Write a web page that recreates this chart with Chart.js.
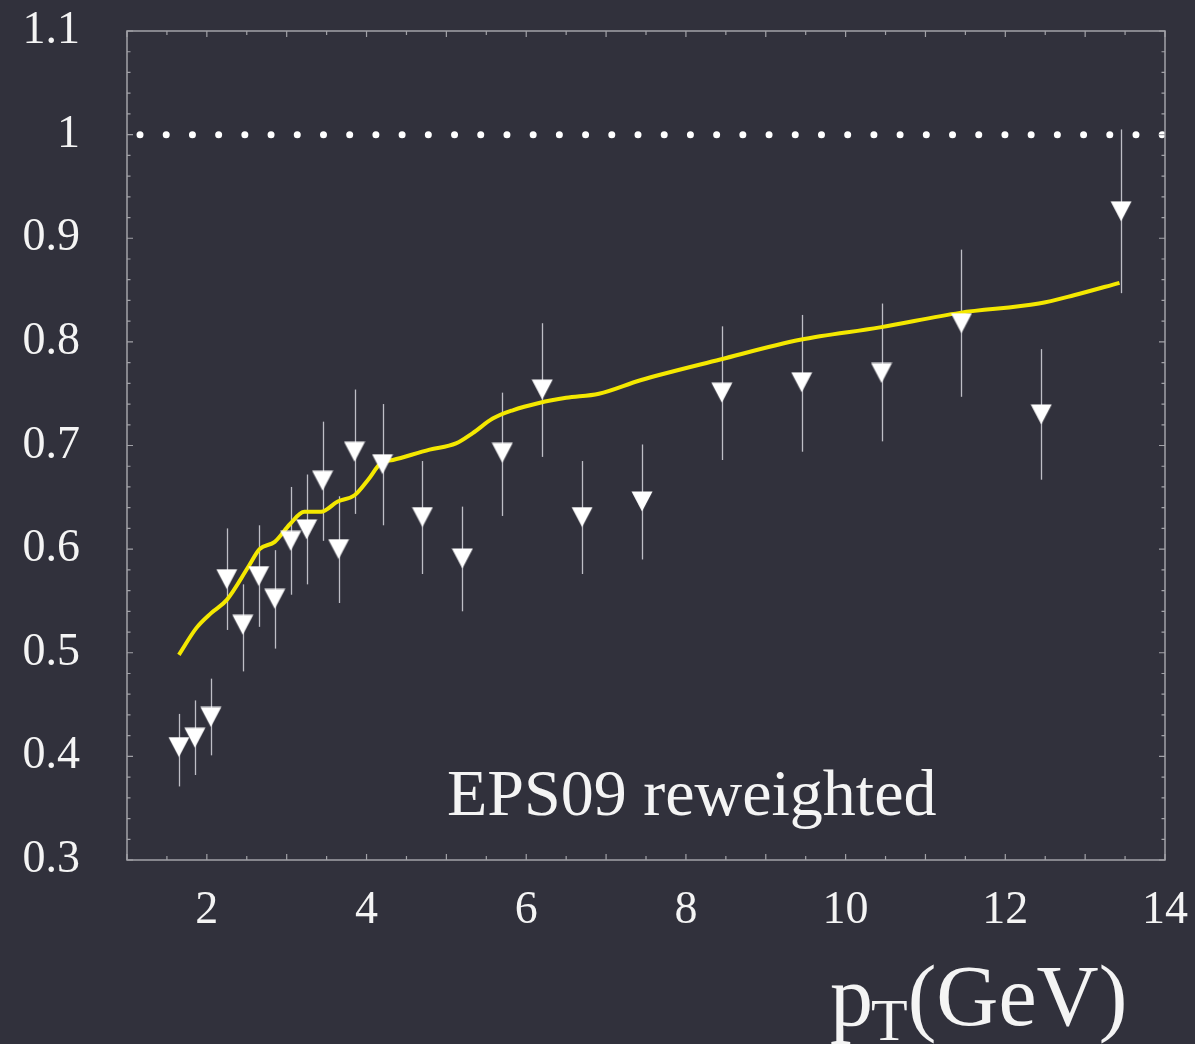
<!DOCTYPE html>
<html><head><meta charset="utf-8">
<script src="https://cdn.jsdelivr.net/npm/chart.js@4"></script>
<style>
html,body{margin:0;padding:0;background:#30303b;overflow:hidden}
#wrap{width:1195px;height:1044px;position:relative}
</style>
</head><body><div id="wrap"><canvas id="c" width="1195" height="1044"></canvas></div>
<script>
// ---- data ----
const ptX   = [1.65, 1.85, 2.05, 2.25, 2.45, 2.65, 2.85, 3.05, 3.25, 3.45, 3.65, 3.85, 4.2, 4.7, 5.2, 5.7, 6.2, 6.7, 7.45, 8.45, 9.45, 10.45, 11.45, 12.45, 13.45];
const ptY   = [0.409, 0.418, 0.438, 0.571, 0.527, 0.574, 0.552, 0.608, 0.619, 0.666, 0.600, 0.694, 0.682, 0.631, 0.591, 0.693, 0.754, 0.631, 0.646, 0.751, 0.761, 0.770, 0.818, 0.730, 0.926];
const errLo = [0.371, 0.382, 0.401, 0.522, 0.482, 0.525, 0.504, 0.556, 0.566, 0.608, 0.548, 0.634, 0.623, 0.576, 0.540, 0.632, 0.689, 0.576, 0.590, 0.686, 0.694, 0.704, 0.747, 0.667, 0.847];
const errHi = [0.441, 0.454, 0.475, 0.620, 0.566, 0.623, 0.599, 0.660, 0.672, 0.723, 0.651, 0.754, 0.740, 0.685, 0.641, 0.751, 0.818, 0.685, 0.701, 0.815, 0.826, 0.837, 0.889, 0.793, 1.005];
const curveX = [1.65, 1.87, 2.05, 2.25, 2.52, 2.66, 2.85, 3.04, 3.22, 3.43, 3.64, 3.85, 4.02, 4.18, 4.33, 4.79, 5.12, 5.33, 5.58, 5.83, 6.16, 6.50, 6.91, 7.43, 8.43, 9.43, 10.43, 11.43, 12.42, 12.86, 13.43];
const curveY = [0.498, 0.524, 0.538, 0.551, 0.583, 0.600, 0.607, 0.624, 0.636, 0.636, 0.646, 0.652, 0.667, 0.683, 0.686, 0.696, 0.702, 0.712, 0.726, 0.734, 0.741, 0.746, 0.750, 0.763, 0.783, 0.802, 0.814, 0.828, 0.837, 0.845, 0.857];
const refX = [1.163, 13.98];
const refY = [1, 1];
const xMin = 1, xMax = 14, yMin = 0.3, yMax = 1.1;
const xLabelTicks = [2, 4, 6, 8, 10, 12, 14];
const annotationText = 'EPS09 reweighted';
const xTitleMain = 'p', xTitleSub = 'T', xTitleUnit = '(GeV)';

// ---- styles ----
const BG = '#31313c';
const FRAME = '#a2a2a8';
const TXT = '#f4f4f4';
const SERIF = '"Liberation Serif", "Times New Roman", serif';

// triangle marker image (pointing down)
const tri = document.createElement('canvas');
tri.width = 22; tri.height = 21;
(function(){
  const t = tri.getContext('2d');
  t.fillStyle = '#ffffff';
  t.beginPath(); t.moveTo(0.5, 0.5); t.lineTo(21.5, 0.5); t.lineTo(11, 20.5); t.closePath(); t.fill();
})();

const zip = (xs, ys) => xs.map((x, i) => ({x, y: ys[i]}));

const decor = {
  id: 'decor',
  beforeDraw(chart) {
    const ctx = chart.ctx;
    ctx.save(); ctx.fillStyle = BG; ctx.fillRect(0, 0, chart.width, chart.height); ctx.restore();
  },
  beforeDatasetsDraw(chart) {
    const ctx = chart.ctx, xs = chart.scales.x, ys = chart.scales.y;
    ctx.save();
    ctx.strokeStyle = 'rgba(215,215,222,0.85)';
    ctx.lineWidth = 1.3;
    ptX.forEach((x, i) => {
      const px = Math.round(xs.getPixelForValue(x)) + 0.5;
      ctx.beginPath();
      ctx.moveTo(px, ys.getPixelForValue(errLo[i]));
      ctx.lineTo(px, ys.getPixelForValue(errHi[i]));
      ctx.stroke();
    });
    ctx.restore();
  },
  afterDatasetsDraw(chart) {
    const ctx = chart.ctx, xs = chart.scales.x, ys = chart.scales.y, a = chart.chartArea;
    ctx.save();
    ctx.strokeStyle = FRAME; ctx.lineWidth = 1.5;
    ctx.strokeRect(a.left, a.top, a.right - a.left, a.bottom - a.top);
    ctx.lineWidth = 1.2;
    ctx.beginPath();
    for (let i = 0; i <= (xMax - xMin) * 2; i++) {
      const v = xMin + i * 0.5;
      const px = xs.getPixelForValue(v);
      const len = (Math.abs(v - Math.round(v)) < 1e-6) ? 6 : 4;
      ctx.moveTo(px, a.bottom); ctx.lineTo(px, a.bottom - len);
      ctx.moveTo(px, a.top); ctx.lineTo(px, a.top + len);
    }
    for (let i = 0; i <= Math.round((yMax - yMin) / 0.02); i++) {
      const v = yMin + i * 0.02;
      const py = ys.getPixelForValue(v);
      const len = (i % 5 === 0) ? 6 : 3.5;
      ctx.moveTo(a.left, py); ctx.lineTo(a.left + len, py);
      ctx.moveTo(a.right, py); ctx.lineTo(a.right - len, py);
    }
    ctx.stroke();

    // annotation
    ctx.fillStyle = TXT;
    ctx.textBaseline = 'alphabetic';
    ctx.textAlign = 'left';
    ctx.font = '66px ' + SERIF;
    ctx.fillText(annotationText, 447, 815);

    // axis title p_T(GeV)
    ctx.font = '86px ' + SERIF;
    let x0 = 830;
    ctx.fillText(xTitleMain, x0, 1025);
    x0 += ctx.measureText(xTitleMain).width - 2;
    ctx.font = '60px ' + SERIF;
    ctx.fillText(xTitleSub, x0, 1040);
    x0 += ctx.measureText(xTitleSub).width;
    ctx.font = '86px ' + SERIF;
    ctx.fillText(xTitleUnit, x0, 1025);
    ctx.restore();
  }
};

const noPad = s => { s.paddingTop = 0; s.paddingBottom = 0; s.paddingLeft = 0; s.paddingRight = 0; };

new Chart(document.getElementById('c'), {
  type: 'scatter',
  data: {
    datasets: [
      {
        type: 'line', label: 'ratio = 1', data: zip(refX, refY),
        borderColor: '#ffffff', borderWidth: 7, borderDash: [0, 26.21], borderCapStyle: 'round',
        pointRadius: 0, fill: false, order: 3
      },
      {
        type: 'line', label: 'EPS09 reweighted', data: zip(curveX, curveY),
        borderColor: '#f4e800', borderWidth: 4, pointRadius: 0, fill: false,
        cubicInterpolationMode: 'monotone', order: 2
      },
      {
        label: 'data', data: zip(ptX, ptY),
        pointStyle: tri, pointRadius: 10, pointHoverRadius: 10, order: 1
      }
    ]
  },
  options: {
    responsive: false, animation: false, events: [],
    devicePixelRatio: 1,
    layout: { padding: { top: 31, right: 30, left: 0, bottom: 0 } },
    plugins: { legend: { display: false }, tooltip: { enabled: false } },
    scales: {
      x: {
        type: 'linear', position: 'bottom', min: xMin, max: xMax, offset: false,
        grid: { display: false, drawTicks: false, offset: false }, border: { display: false },
        ticks: {
          stepSize: 1, autoSkip: false, maxRotation: 0, padding: 23,
          color: TXT, font: { family: SERIF, size: 46 },
          callback: v => xLabelTicks.includes(v) ? String(v) : ''
        },
        afterFit: s => { s.height = 184; noPad(s); }
      },
      y: {
        type: 'linear', position: 'left', min: yMin, max: yMax,
        grid: { display: false, drawTicks: false }, border: { display: false },
        ticks: {
          stepSize: 0.1, padding: 47, color: TXT, font: { family: SERIF, size: 46 },
          callback: v => String(Math.round(v * 10) / 10)
        },
        afterFit: s => { s.width = 127; noPad(s); }
      }
    }
  },
  plugins: [decor]
});
</script>
</body></html>
